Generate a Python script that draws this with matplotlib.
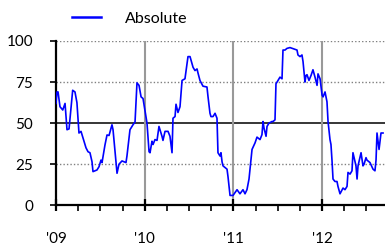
import matplotlib.pyplot as plt
import numpy as np
from matplotlib.ticker import FixedLocator

# Data (decimal year, value)
years = [2009.000, 2009.011, 2009.023, 2009.045, 2009.076, 2009.102, 2009.124, 2009.147,
         2009.188, 2009.214, 2009.236, 2009.259, 2009.282, 2009.304, 2009.338, 2009.361,
         2009.383, 2009.406, 2009.417, 2009.462, 2009.485, 2009.507, 2009.519, 2009.552,
         2009.575, 2009.598, 2009.631, 2009.643, 2009.688, 2009.710, 2009.744, 2009.789,
         2009.800, 2009.834, 2009.868, 2009.891, 2009.913, 2009.936, 2009.959, 2009.981,
         2010.026, 2010.049, 2010.060, 2010.082, 2010.094, 2010.116, 2010.139, 2010.161,
         2010.195, 2010.206, 2010.229, 2010.263, 2010.285, 2010.308, 2010.319, 2010.342,
         2010.353, 2010.375, 2010.398, 2010.421, 2010.454, 2010.477, 2010.488, 2010.511,
         2010.545, 2010.567, 2010.590, 2010.601, 2010.623, 2010.657, 2010.702, 2010.714,
         2010.736, 2010.747, 2010.770, 2010.793, 2010.815, 2010.826, 2010.849, 2010.860,
         2010.872, 2010.883, 2010.928, 2010.939, 2010.962, 2010.996, 2011.041, 2011.074,
         2011.108, 2011.131, 2011.153, 2011.176, 2011.210, 2011.244, 2011.266, 2011.300,
         2011.322, 2011.334, 2011.345, 2011.368, 2011.379, 2011.401, 2011.435, 2011.447,
         2011.469, 2011.480, 2011.492, 2011.525, 2011.548, 2011.559, 2011.582, 2011.604,
         2011.638, 2011.717, 2011.728, 2011.751, 2011.773, 2011.785, 2011.807, 2011.818,
         2011.830, 2011.852, 2011.875, 2011.897, 2011.920, 2011.943, 2011.954, 2011.977,
         2012.000, 2012.011, 2012.033, 2012.055, 2012.067, 2012.089, 2012.100, 2012.112,
         2012.123, 2012.145, 2012.168, 2012.179, 2012.202, 2012.236, 2012.258, 2012.281,
         2012.292, 2012.315, 2012.337, 2012.348, 2012.382, 2012.394, 2012.405, 2012.439,
         2012.461, 2012.473, 2012.495, 2012.506, 2012.540, 2012.574, 2012.596, 2012.608,
         2012.619, 2012.642, 2012.664, 2012.675, 2012.687]
values = [62, 69, 69, 60, 58, 62, 46, 46.5,
          70, 69, 62.5, 44, 45, 41, 35, 32.6,
          32, 26.5, 20.5, 21.5, 23.5, 27.5, 26, 36.7,
          42.8, 42.5, 49, 46, 19.5, 25, 27, 26,
          30, 46, 49, 50.7, 74.5, 73, 66, 65,
          50, 32.6, 32, 39, 37, 40, 39.5, 48,
          42, 39.5, 45, 45, 42, 32, 53, 54,
          61.5, 56.5, 60, 76, 77, 86, 90.5, 90.5,
          84, 82, 83, 80.5, 76, 72.5, 72, 66,
          56, 54, 54, 56, 53, 32, 30, 32,
          26.5, 24, 22, 17.5, 6, 6, 9.5, 7,
          9.5, 7, 9.5, 16, 34, 38, 41.5, 40,
          43, 51, 47, 42, 48, 50, 51, 51,
          52, 74, 75, 78, 77, 94.5, 94.5, 95.5,
          96, 94.5, 91.5, 90.5, 91.5, 87.5, 75, 79,
          79.5, 76, 79, 82.5, 78, 73, 80, 77,
          67, 66, 69, 63, 51, 40, 37, 27,
          16, 14.5, 14.5, 11.5, 7, 10.5, 9.5, 11.5,
          20, 19, 21, 32, 24, 16, 24, 32,
          24, 25, 29, 27.5, 26, 22, 21, 27.5,
          44, 34, 44, 44, 44]
year_ticks = [2009, 2010, 2011, 2012]
year_labels = ["'09", "'10", "'11", "'12"]
series_name = "Absolute"

plt.rcParams['font.family'] = ['Lato', 'DejaVu Sans']

fig = plt.figure(figsize=(3.85, 2.47), dpi=100)
ax = fig.add_axes([56 / 385, 1 - 205.3 / 247, 1 - 56 / 385, (205.3 - 41) / 247])

# grid lines
for yv in [25, 75, 100]:
    ax.axhline(yv, color="#808080", lw=1.0, ls=(0, (1, 1.5)), zorder=1)
ax.axhline(50, color="black", lw=1.1, zorder=1)
for xv in year_ticks[1:]:
    ax.axvline(xv, color="#999999", lw=1.5, zorder=1)

line, = ax.plot(years, values, color="#0000FF", lw=1.2, zorder=3, label=series_name)

ax.set_xlim(2009, 2009 + (385 - 56) / 88.7)
ax.set_ylim(0, 100)
ax.set_yticks([0, 25, 50, 75, 100])
ax.set_xticks(year_ticks)
ax.set_xticklabels(year_labels)
ax.xaxis.set_minor_locator(FixedLocator(np.arange(2009, 2012.8, 0.25)))

for s in ["top", "right"]:
    ax.spines[s].set_visible(False)
ax.spines["left"].set_linewidth(1.6)
ax.spines["bottom"].set_linewidth(1.6)

ax.tick_params(axis="y", direction="out", length=4.5, width=1.2, pad=12, labelsize=11)
ax.tick_params(axis="x", which="major", direction="inout", length=8, width=1.6, pad=15, labelsize=11)
ax.tick_params(axis="x", which="minor", direction="out", length=4, width=1.2)

leg = fig.legend(handles=[line], loc="center left", bbox_to_anchor=(72 / 385, 1 - 19 / 247),
                 frameon=False, fontsize=11.5, handlelength=1.8, handletextpad=1.5, borderpad=0,
                 borderaxespad=0)
leg.get_lines()[0].set_linewidth(1.8)

fig.savefig("out.png", dpi=100)
